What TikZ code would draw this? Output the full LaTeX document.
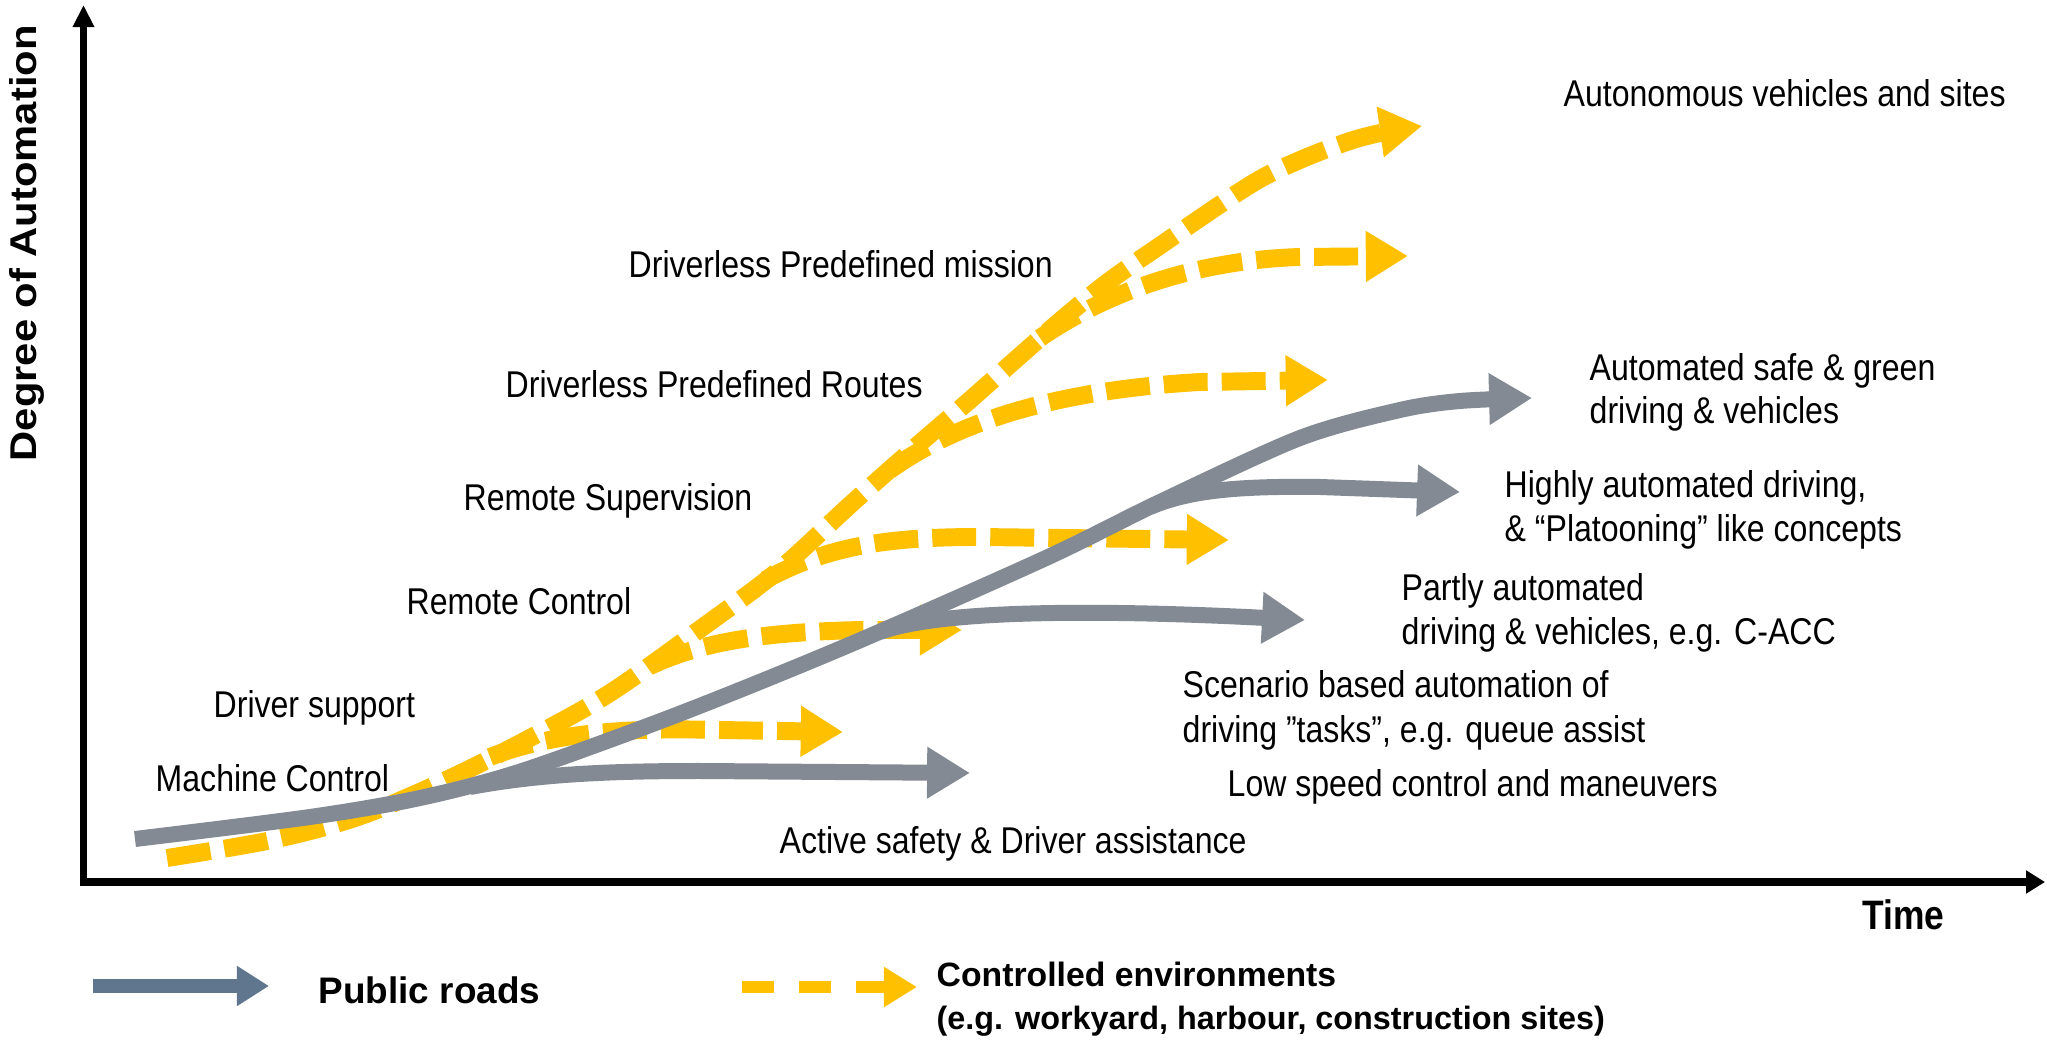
\documentclass[tikz,border=0pt]{standalone}
\usepackage{fontspec}
\setmainfont{Liberation Sans}
\newfontfamily\chartfont{Liberation Sans}[FakeStretch=0.86]
\newfontfamily\sidefont{Liberation Sans}[FakeStretch=1.12]
\usetikzlibrary{arrows.meta}

\definecolor{roadgray}{RGB}{131,138,147}
\definecolor{legendgray}{RGB}{96,118,143}
\definecolor{siteyellow}{RGB}{255,192,0}

\tikzset{
  road/.style={draw=roadgray, line width=4.55pt,
    -{Triangle[length=12.2pt,width=13.9pt]}},
  site/.style={draw=siteyellow, line width=5.1pt,
    dash pattern=on 12.5pt off 4pt,
    -{Triangle[length=12pt,width=13.7pt]}},
  axisline/.style={draw=black, line width=#1},
  lbl/.style={anchor=base west, inner sep=0pt,
    font=\chartfont\fontsize{10.6}{12}\selectfont},
  legendtext/.style={anchor=base west, inner sep=0pt, font=\bfseries}
}

\begin{document}
\begin{tikzpicture}[x=0.01cm, y=-0.01cm]
\useasboundingbox (0,0) rectangle (2047,1043);

% axes
\coordinate (origin) at (83.5,882);
\coordinate (ytop) at (83.5,5);
\coordinate (ybottom) at (83.5,886);
\coordinate (xstart) at (80,882);
\coordinate (xend) at (2045,882);
\draw[axisline=1.9pt, -{Triangle[length=6.3pt,width=5.8pt]}] (ybottom) -- (ytop);
\draw[axisline=2.3pt, -{Triangle[length=5.4pt,width=6.3pt]}] (xstart) -- (xend);

\node[anchor=base west, rotate=90, inner sep=0pt,
  font=\sidefont\bfseries\fontsize{10.6}{12}\selectfont] (degree) at (37,462) {Degree of Automation};
\node[anchor=base west, inner sep=0pt,
  font=\chartfont\bfseries\fontsize{11.7}{13}\selectfont] (time) at (1862,930) {Time};

% controlled environments: trunk and branches
\coordinate (y0) at (167,858);
\coordinate (yT) at (1422,126);
\draw[site] plot[smooth, tension=0.55] coordinates {(y0) (272,840) (358,817) (444,781) (530,738)
  (610,693) (703,627) (779,570) (850,505) (912,450) (970,400) (1046,333) (1104,285)
  (1158,247) (1250,185) (1300,160) (1350,141) (1385,132) (yT)};

\coordinate (ya1) at (490,757);  \coordinate (yb1) at (843,732);
\coordinate (ya2) at (650,666);  \coordinate (yb2) at (962,630);
\coordinate (ya3) at (765,580);  \coordinate (yb3) at (1229,540);
\coordinate (ya4) at (890,470);  \coordinate (yb4) at (1328,380);
\coordinate (ya5) at (1040,338); \coordinate (yb5) at (1408,256);
\draw[site] (ya1) .. controls (560,730) and (640,728) .. (720,730) -- (yb1);
\draw[site] (ya2) .. controls (710,638) and (780,632) .. (860,630) -- (yb2);
\draw[site] (ya3) .. controls (830,545) and (890,537) .. (980,537) -- (yb3);
\draw[site] (ya4) .. controls (960,420) and (1060,390) .. (1200,382) -- (yb4);
\draw[site] (ya5) .. controls (1110,290) and (1200,260) .. (1300,257) -- (yb5);

% public roads: trunk and branches
\coordinate (g0) at (135,839);
\coordinate (gT) at (1532,398);
\draw[road] plot[smooth, tension=0.5] coordinates {(g0) (310,817) (420,798) (522,771)
  (679,714) (849,645) (1046,558) (1158,503) (1300,438)
  (1400,410) (1460,401) (gT)};

\coordinate (ga1) at (470,787);  \coordinate (gb1) at (970,773);
\coordinate (ga2) at (880,632);  \coordinate (gb2) at (1305,620);
\coordinate (ga3) at (1150,507); \coordinate (gb3) at (1460,492);
\draw[road] (ga1) .. controls (540,774) and (610,771) .. (700,771) -- (gb1);
\draw[road] (ga2) .. controls (950,606) and (1150,612) .. (gb2);
\draw[road] (ga3) .. controls (1190,490) and (1240,486) .. (1320,487) -- (gb3);

% stage labels
\node[lbl] (autonomous) at (1563,107) {Autonomous vehicles and sites};
\node[lbl] (mission) at (628,278) {Driverless Predefined mission};
\node[lbl] (routes) at (505,398) {Driverless Predefined Routes};
\node[lbl] (green1) at (1589,381) {Automated safe \& green};
\node[lbl] (green2) at (1589,424) {driving \& vehicles};
\node[lbl] (supervision) at (463,511) {Remote Supervision};
\node[lbl] (highly1) at (1504,498) {Highly automated driving,};
\node[lbl] (highly2) at (1504,542) {\& “Platooning” like concepts};
\node[lbl] (rcontrol) at (406,615) {Remote Control};
\node[lbl] (partly1) at (1401,601) {Partly automated};
\node[lbl] (partly2) at (1401,645) {driving \& vehicles, e.g. C-ACC};
\node[lbl] (scenario1) at (1182,698) {Scenario based automation of};
\node[lbl] (scenario2) at (1182,743) {driving ”tasks”, e.g. queue assist};
\node[lbl] (dsupport) at (213,718) {Driver support};
\node[lbl] (machine) at (155,792) {Machine Control};
\node[lbl] (lowspeed) at (1227,797) {Low speed control and maneuvers};
\node[lbl] (active) at (779,854) {Active safety \& Driver assistance};

% legend
\coordinate (lg0) at (93,986);  \coordinate (lg1) at (269,986);
\coordinate (ly0) at (742,987); \coordinate (ly1) at (917,987);
\draw[draw=legendgray, line width=3.7pt, -{Triangle[length=9.1pt,width=10.8pt]}] (lg0) -- (lg1);
\draw[draw=siteyellow, line width=3.4pt, dash pattern=on 9.1pt off 7.1pt,
  -{Triangle[length=9.4pt,width=10.8pt]}] (ly0) -- (ly1);
\node[legendtext, font=\bfseries\fontsize{10.5}{12}\selectfont] (public) at (318,1004) {Public roads};
\node[legendtext, font=\bfseries\fontsize{9.6}{11}\selectfont] (controlled) at (936,987) {Controlled environments};
\node[legendtext, font=\bfseries\fontsize{9.2}{11}\selectfont] (examples) at (936,1030) {(e.g. workyard, harbour, construction sites)};
\end{tikzpicture}
\end{document}
